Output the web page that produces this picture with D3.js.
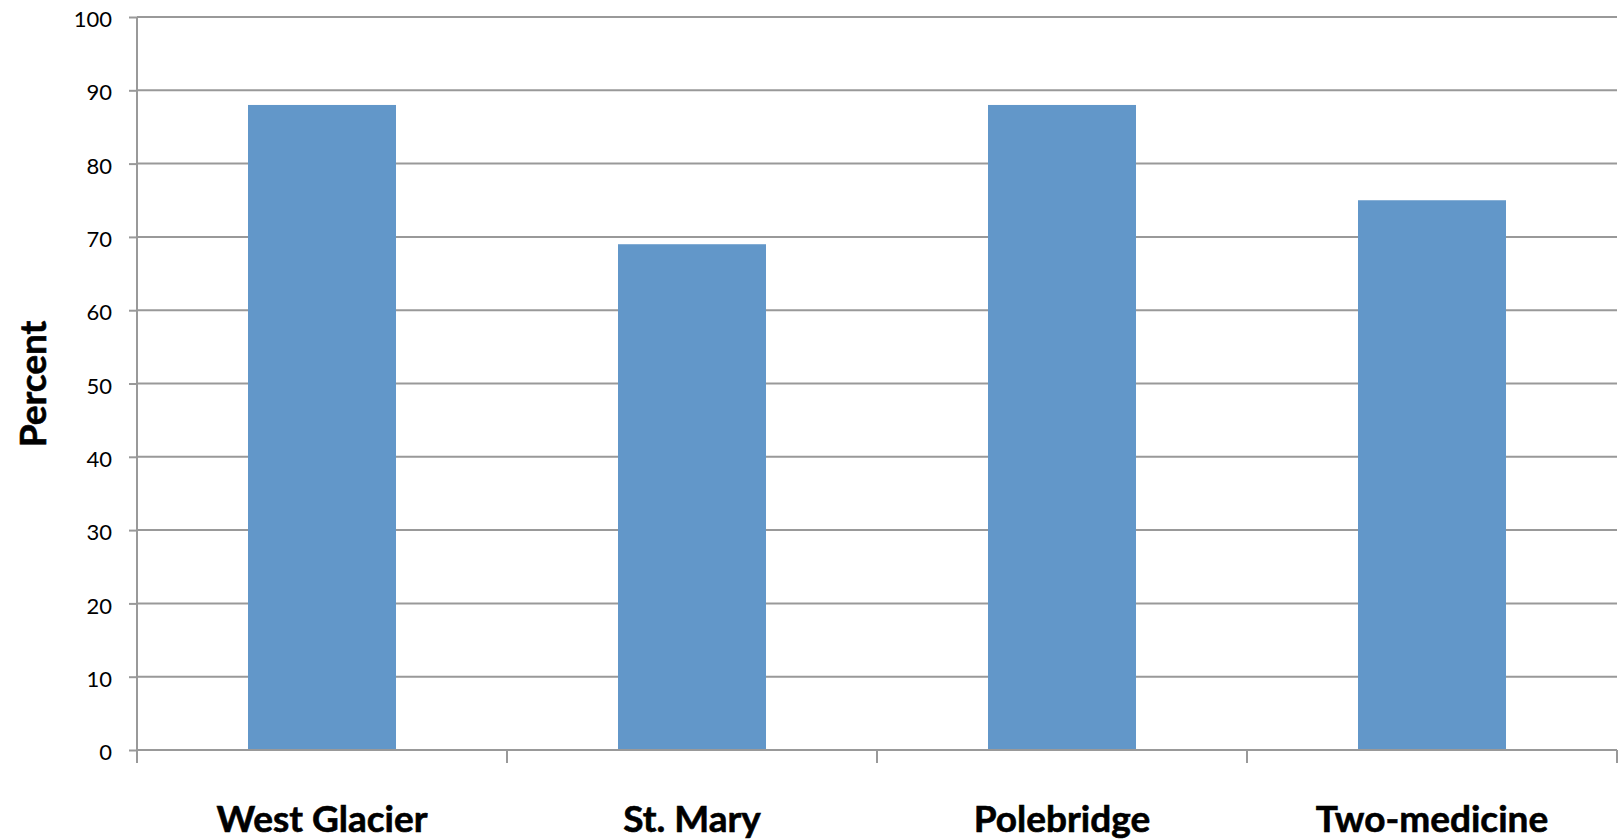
<!DOCTYPE html>
<html>
<head>
<meta charset="utf-8">
<script src="https://cdn.jsdelivr.net/npm/d3@7"></script>
<style>
  html, body { margin: 0; padding: 0; background: #fff; }
  svg { display: block; }
</style>
</head>
<body>
<svg id="chart" width="1619" height="840"></svg>
<script>
// Share of visitors by area (percent)
const categories = ["West Glacier", "St. Mary", "Polebridge", "Two-medicine"];
const percents = [88, 69, 88, 75];
const yTicks = [0, 10, 20, 30, 40, 50, 60, 70, 80, 90, 100];

const svg = d3.select("#chart");
const margin = { left: 137, right: 2, top: 17, bottom: 90 };
const W = 1619, H = 840;
const plotBottom = 750;

const x = d3.scaleBand()
  .domain(categories)
  .range([margin.left, W - margin.right])
  .paddingInner(0.6)
  .paddingOuter(0.3);

const y = d3.scaleLinear()
  .domain([0, 100])
  .range([plotBottom, margin.top]);

const gridColor = "#999999";
const font = "Lato, 'Open Sans', sans-serif";

// horizontal gridlines
svg.append("g")
  .selectAll("line")
  .data(yTicks.filter(t => t > 0))
  .join("line")
  .attr("x1", margin.left)
  .attr("x2", W - margin.right)
  .attr("y1", d => y(d))
  .attr("y2", d => y(d))
  .attr("stroke", gridColor)
  .attr("stroke-width", 2);

// bars
svg.append("g")
  .selectAll("rect")
  .data(categories)
  .join("rect")
  .attr("x", d => x(d))
  .attr("width", x.bandwidth())
  .attr("y", (d, i) => y(percents[i]))
  .attr("height", (d, i) => y(0) - y(percents[i]))
  .attr("fill", "#6297c9");

// y axis
const yAxis = svg.append("g")
  .attr("transform", `translate(${margin.left},0)`)
  .call(d3.axisLeft(y).tickValues(yTicks).tickSize(8).tickPadding(17).tickFormat(d3.format("d")));
yAxis.select(".domain").attr("stroke", gridColor).attr("stroke-width", 2)
  .attr("d", `M0,${y(100)}V${plotBottom + 10}`);
yAxis.selectAll(".tick line").attr("stroke", gridColor).attr("stroke-width", 2);
yAxis.selectAll(".tick text")
  .attr("font-family", font)
  .attr("font-size", 22)
  .attr("dy", "0.44em")
  .attr("fill", "#000");

// x axis with boundary ticks between categories
const boundaries = d3.range(categories.length + 1)
  .map(i => margin.left + i * (W - margin.right - margin.left) / categories.length);
const xg = svg.append("g");
xg.append("line")
  .attr("x1", margin.left).attr("x2", W - margin.right)
  .attr("y1", plotBottom).attr("y2", plotBottom)
  .attr("stroke", gridColor).attr("stroke-width", 2);
xg.selectAll("line.tick")
  .data(boundaries)
  .join("line")
  .attr("class", "tick")
  .attr("x1", d => d).attr("x2", d => d)
  .attr("y1", plotBottom).attr("y2", plotBottom + 13)
  .attr("stroke", gridColor).attr("stroke-width", 2);

xg.selectAll("text")
  .data(categories)
  .join("text")
  .attr("x", d => x(d) + x.bandwidth() / 2)
  .attr("y", 832)
  .attr("text-anchor", "middle")
  .attr("font-family", font)
  .attr("font-weight", "bold")
  .attr("font-size", 37)
  .attr("fill", "#000")
  .attr("stroke", "#000")
  .attr("stroke-width", 0.6)
  .text(d => d);

// y axis title
svg.append("text")
  .attr("transform", `translate(46,${384}) rotate(-90)`)
  .attr("text-anchor", "middle")
  .attr("font-family", font)
  .attr("font-weight", "bold")
  .attr("font-size", 37)
  .attr("fill", "#000")
  .attr("stroke", "#000")
  .attr("stroke-width", 0.6)
  .text("Percent");
</script>
</body>
</html>
